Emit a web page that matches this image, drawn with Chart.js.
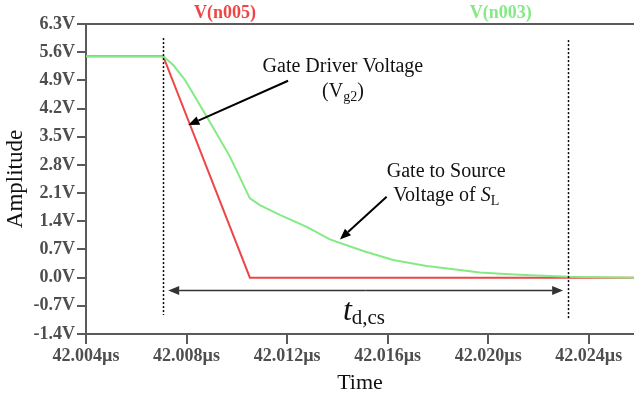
<!DOCTYPE html>
<html>
<head>
<meta charset="utf-8">
<script src="https://cdn.jsdelivr.net/npm/chart.js@4"></script>
<style>
html, body { margin: 0; padding: 0; background: #fff; }
#wrap { width: 634px; height: 400px; }
</style>
</head>
<body>
<div id="wrap"><canvas id="grafico"></canvas></div>
<script>
// tiempo en ns (42004 = 42.004us)
const tiempoRojo = [42004, 42007.07, 42010.52, 42025.8];
const voltajeRojo = [5.5, 5.5, 0, 0];
const tiempoVerde = [42004, 42007.07, 42007.47, 42007.94, 42008.8, 42009.73, 42010.52, 42010.92, 42011.71, 42012.78, 42013.7, 42015.03, 42016.22, 42017.55, 42018.87, 42019.67, 42020.66, 42021.65, 42023.24, 42024.44, 42025.8];
const voltajeVerde = [5.5, 5.5, 5.28, 4.91, 4.0, 3.0, 1.97, 1.8, 1.56, 1.26, 0.95, 0.66, 0.44, 0.29, 0.19, 0.13, 0.09, 0.06, 0.02, 0.01, 0.0];
const ticksX = [42004, 42008, 42012, 42016, 42020, 42024];
const ticksY = [-1.4, -0.7, 0, 0.7, 1.4, 2.1, 2.8, 3.5, 4.2, 4.9, 5.6, 6.3];
const nombres = ["V(n005)", "V(n003)"];

// anotaciones en coordenadas de datos
const lineasV = [[42007.07, 5.95, -0.93], [42023.18, 5.9, -1.03]];
const flechaDoble = [42007.27, 42022.98, -0.32];
const flechaDriver = [42012.04, 4.89, 42008.07, 3.79];
const flechaGate = [42015.96, 2.01, 42014.1, 0.95];

const serif = "'Liberation Serif', 'Times New Roman', serif";
const gris = "#5a5a5a";

function flecha(ctx, x1, y1, x2, y2) {
	let ang = Math.atan2(y2 - y1, x2 - x1);
	let largo = 11, ancho = 4.5;
	let bx = x2 - largo * Math.cos(ang), by = y2 - largo * Math.sin(ang);
	ctx.beginPath();
	ctx.moveTo(x1, y1);
	ctx.lineTo(bx, by);
	ctx.stroke();
	ctx.beginPath();
	ctx.moveTo(x2, y2);
	ctx.lineTo(bx + ancho * Math.sin(ang), by - ancho * Math.cos(ang));
	ctx.lineTo(bx - ancho * Math.sin(ang), by + ancho * Math.cos(ang));
	ctx.closePath();
	ctx.fill();
}

// partes: [texto, fuente, desplazamiento vertical]
function textoPartes(ctx, partes, x, y, centrado) {
	let total = 0;
	partes.forEach((p) => {
		ctx.font = p[1];
		total += ctx.measureText(p[0]).width;
	});
	let cx = centrado ? x - total / 2 : x;
	ctx.textAlign = "left";
	ctx.textBaseline = "alphabetic";
	partes.forEach((p) => {
		ctx.font = p[1];
		ctx.fillText(p[0], cx, y + p[2]);
		cx += ctx.measureText(p[0]).width;
	});
}

const notas = {
	id: "notas",
	afterDatasetsDraw(chart) {
		const { ctx, chartArea: a, scales: { x, y } } = chart;
		ctx.save();
		ctx.strokeStyle = gris;
		ctx.lineWidth = 2;
		ctx.beginPath();
		ctx.moveTo(a.left, a.top);
		ctx.lineTo(a.right, a.top);
		ctx.stroke();

		ctx.strokeStyle = "#000";
		ctx.lineWidth = 1.5;
		ctx.setLineDash([2, 2]);
		lineasV.forEach((l) => {
			let px = Math.round(x.getPixelForValue(l[0])) + 0.5;
			ctx.beginPath();
			ctx.moveTo(px, y.getPixelForValue(l[1]));
			ctx.lineTo(px, y.getPixelForValue(l[2]));
			ctx.stroke();
		});
		ctx.setLineDash([]);

		ctx.strokeStyle = "#333";
		ctx.fillStyle = "#333";
		ctx.lineWidth = 1.5;
		let x1 = x.getPixelForValue(flechaDoble[0]);
		let x2 = x.getPixelForValue(flechaDoble[1]);
		let yf = y.getPixelForValue(flechaDoble[2]);
		let xm = (x1 + x2) / 2;
		flecha(ctx, xm, yf, x1, yf);
		flecha(ctx, xm, yf, x2, yf);

		ctx.strokeStyle = "#000";
		ctx.fillStyle = "#000";
		ctx.lineWidth = 2;
		[flechaDriver, flechaGate].forEach((f) => {
			flecha(ctx, x.getPixelForValue(f[0]), y.getPixelForValue(f[1]), x.getPixelForValue(f[2]), y.getPixelForValue(f[3]));
		});

		ctx.fillStyle = "#111";
		let f20 = "20px " + serif;
		let f14 = "14px " + serif;
		textoPartes(ctx, [["Gate Driver Voltage", f20, 0]], x.getPixelForValue(42014.22), y.getPixelForValue(5.11), true);
		textoPartes(ctx, [["(V", f20, 0], ["g2", f14, 4], [")", f20, 0]], x.getPixelForValue(42014.22), y.getPixelForValue(4.49), true);
		textoPartes(ctx, [["Gate to Source", f20, 0]], x.getPixelForValue(42018.33), y.getPixelForValue(2.5), true);
		textoPartes(ctx, [["Voltage of ", f20, 0], ["S", "italic 20px " + serif, 0], ["L", f14, 4]], x.getPixelForValue(42018.33), y.getPixelForValue(1.91), true);
		textoPartes(ctx, [["t", "italic 32px " + serif, 0], ["d,cs", "21px " + serif, 4]], x.getPixelForValue(42014.22), y.getPixelForValue(-1.05), false);

		ctx.font = "bold 18px " + serif;
		ctx.textAlign = "center";
		ctx.fillStyle = "#ee4646";
		ctx.fillText(nombres[0], x.getPixelForValue(42009.53), a.top - 6);
		ctx.fillStyle = "#84ea84";
		ctx.fillText(nombres[1], x.getPixelForValue(42020.5), a.top - 6);
		ctx.restore();
	},
};

let ctx = document.getElementById("grafico");
let grafico = new Chart(ctx, {
	type: "line",
	data: {
		datasets: [
			{
				label: nombres[1],
				data: tiempoVerde.map((t, i) => ({ x: t, y: voltajeVerde[i] })),
				borderColor: "#84ea84",
				borderWidth: 2,
				pointRadius: 0,
				tension: 0,
			},
			{
				label: nombres[0],
				data: tiempoRojo.map((t, i) => ({ x: t, y: voltajeRojo[i] })),
				borderColor: "#ee4646",
				borderWidth: 2,
				pointRadius: 0,
				tension: 0,
			},
		],
	},
	options: {
		responsive: true,
		maintainAspectRatio: false,
		animation: false,
		layout: { padding: { top: 24, right: 0, left: 0, bottom: 0 } },
		plugins: {
			legend: { display: false },
			tooltip: { enabled: false },
		},
		scales: {
			x: {
				type: "linear",
				min: 42004,
				max: 42025.8,
				afterBuildTicks: (s) => {
					s.ticks = ticksX.map((v) => ({ value: v }));
				},
				afterFit: (s) => {
					s.height = 66;
				},
				ticks: {
					color: "#4e4e4e",
					font: { family: serif, size: 18, weight: "bold" },
					padding: 2,
					maxRotation: 0,
					callback: (v) => (v / 1000).toFixed(3) + "µs",
				},
				grid: { drawOnChartArea: false, color: gris, lineWidth: 2, tickLength: 10 },
				border: { color: gris, width: 2 },
				title: {
					display: true,
					text: "Time",
					color: "#111",
					font: { family: serif, size: 22 },
					padding: { top: 4 },
				},
			},
			y: {
				min: -1.4,
				max: 6.3,
				afterBuildTicks: (s) => {
					s.ticks = ticksY.map((v) => ({ value: v }));
				},
				afterFit: (s) => {
					s.width = 86;
				},
				ticks: {
					color: "#4e4e4e",
					font: { family: serif, size: 18, weight: "bold" },
					padding: 2,
					callback: (v) => v.toFixed(1) + "V",
				},
				grid: { drawOnChartArea: false, color: gris, lineWidth: 2, tickLength: 9 },
				border: { color: gris, width: 2 },
				title: {
					display: true,
					text: "Amplitude",
					color: "#111",
					font: { family: serif, size: 23 },
					padding: { top: 2 },
				},
			},
		},
	},
	plugins: [notas],
});
</script>
</body>
</html>
